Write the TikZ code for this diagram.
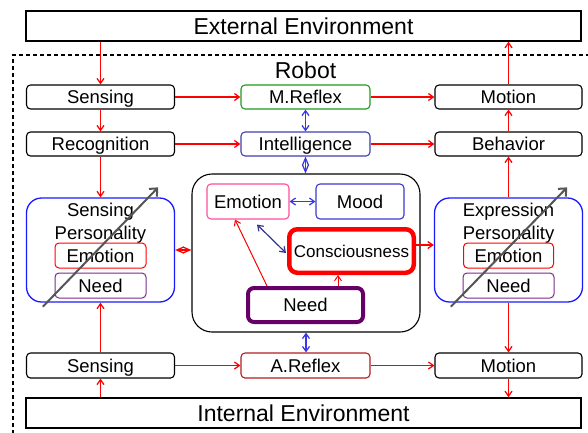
\documentclass[tikz,border=0pt]{standalone}
\usepackage{fontspec}
\setmainfont{Liberation Sans}
\usetikzlibrary{arrows.meta,calc}
\definecolor{rr}{HTML}{FF0000}
\definecolor{bl}{HTML}{3838E8}
\definecolor{navy}{HTML}{343494}
\definecolor{grn}{HTML}{1E9A1E}
\definecolor{dred}{HTML}{B02020}
\definecolor{intb}{HTML}{4040B0}
\definecolor{moodb}{HTML}{3A3ACC}
\definecolor{pink}{HTML}{FF4FA0}
\definecolor{purp}{HTML}{7A2A8A}
\definecolor{dpurp}{HTML}{660066}
\definecolor{pblue}{HTML}{1A1AFF}
\definecolor{gr}{HTML}{555555}
\newcommand{\fsn}{\fontsize{18.5}{20}\selectfont}
\newcommand{\fsb}{\fontsize{23}{25}\selectfont}
\tikzset{
  box/.style={draw, rounded corners=4pt, minimum height=24pt, inner sep=0pt, font=\fsn, line width=1.1pt, fill=white, text height=13.3pt, text depth=0pt},
  envbox/.style={draw, minimum height=30pt, minimum width=555pt, inner sep=0pt, font=\fsb, line width=1.5pt, text height=16.5pt, text depth=0pt},
  pbox/.style={draw=pblue, rounded corners=15pt, minimum width=148pt, minimum height=104pt, inner sep=0pt, line width=1.3pt},
  tipa/.tip={Straight Barb[length=5pt,width=7pt]},
  tipb/.tip={Straight Barb[length=7pt,width=6pt]},
  rarr/.style={draw=rr, line width=1.25pt, -tipa},
  rdarr/.style={draw=rr, line width=1.25pt, tipb-tipb},
  bdarr/.style={draw=bl, line width=1.25pt, tipa-tipa},
  bdarrs/.style={draw=bl, line width=1.25pt, tipb-tipb},
  ndarr/.style={draw=navy, line width=1.2pt, tipa-tipa},
  garr/.style={draw=gr, line width=2pt, -{Straight Barb[length=6pt,width=11pt]}},
  lbl/.style={font=\fsn, anchor=base, inner sep=0pt}
}
\begin{document}
\begin{tikzpicture}[x=1pt,y=-1pt]
\useasboundingbox (0,0) rectangle (588,432);
% robot frame
\draw[line width=1.3pt, dash pattern=on 4pt off 3pt] (13,434) -- (13,55) -- (590,55);
\node[lbl, font=\fsb] (robot) at (305.5,78) {Robot};
% environments
\node[envbox] (ext) at (303.5,26) {External Environment};
\node[envbox] (ienv) at (303.5,413) {Internal Environment};
% top rows
\node[box, minimum width=148pt] (s1) at (100.5,97) {Sensing};
\node[box, minimum width=129pt, draw=grn] (mref) at (305.5,97) {M.Reflex};
\node[box, minimum width=147pt] (mot1) at (508.5,97) {Motion};
\node[box, minimum width=148pt] (rec) at (100.5,144) {Recognition};
\node[box, minimum width=129pt, draw=intb] (int) at (305.5,144) {Intelligence};
\node[box, minimum width=147pt] (beh) at (508.5,144) {Behavior};
% bottom row
\node[box, minimum width=148pt, minimum height=25pt] (s2) at (100.5,365.5) {Sensing};
\node[box, minimum width=129pt, minimum height=25pt, draw=dred] (ar) at (305.5,365.5) {A.Reflex};
\node[box, minimum width=147pt, minimum height=25pt] (mot2) at (508.5,365.5) {Motion};
% personality boxes
\node[pbox] (sp) at (100.5,250) {};
\node[lbl] (spt1) at (100.5,216) {Sensing};
\node[lbl] (spt2) at (100.5,239) {Personality};
\node[box, draw=rr, minimum width=91pt, minimum height=25pt, line width=1pt] (spe) at (100.5,255.5) {Emotion};
\node[box, draw=purp, minimum width=91pt, minimum height=25pt, line width=1pt] (spn) at (100.5,285.5) {Need};
\node[pbox] (ep) at (508.5,250) {};
\node[lbl] (ept1) at (508.5,216) {Expression};
\node[lbl] (ept2) at (508.5,239) {Personality};
\node[box, draw=rr, minimum width=90pt, minimum height=25pt, line width=1pt] (epe) at (508.5,255.5) {Emotion};
\node[box, draw=purp, minimum width=91pt, minimum height=25pt, line width=1pt] (epn) at (508.5,285.5) {Need};
% central box
\node[draw, rounded corners=20pt, minimum width=228pt, minimum height=158pt, inner sep=0pt, line width=1.1pt] (cb) at (306,253) {};
\node[box, draw=pink, minimum width=82pt, minimum height=35pt] (cemo) at (248,201.5) {Emotion};
\node[box, draw=moodb, minimum width=88pt, minimum height=35pt] (cmood) at (360,201.5) {Mood};
\node[box, draw=rr, rounded corners=8pt, minimum width=124.5pt, minimum height=43.5pt, line width=4.5pt, font=\fontsize{17}{19}\selectfont, text height=12.2pt] (ccons) at (351.5,251) {Consciousness};
\node[box, draw=dpurp, rounded corners=6pt, minimum width=115pt, minimum height=34pt, line width=4pt] (cneed) at (305.5,305) {Need};
% connectors: top
\draw[rarr] (s1.north |- ext.south) -- (s1.north);
\draw[rarr] (s1) -- (mref);
\draw[rarr] (s1) -- (rec);
\draw[rarr] (rec) -- (int);
\draw[rarr] (rec) -- (sp.north);
\draw[rarr] (mref) -- (mot1);
\draw[rarr] (int) -- (beh);
\draw[rarr] (beh) -- (mot1);
\draw[rarr] (mot1.north) -- (mot1.north |- ext.south);
\draw[rarr] (beh.south |- ep.north) -- (beh.south);
\draw[bdarr] (mref) -- (int);
\draw[bdarrs] (int.south) -- (int.south |- cb.north);
% middle
\draw[rdarr] (sp.east) -- (sp.east -| cb.west);
\draw[rarr] ([yshift=6pt]ccons.east) -- ([yshift=6pt]ccons.east -| ep.west);
\draw[bdarr] (cemo) -- (cmood);
\draw[ndarr] ($(cemo.south)+(9,5)$) -- ($(ccons.west)+(-1,2)$);
\draw[rarr, line width=1pt] ($(cneed.north west)+(21,0)$) -- ($(cemo.south)+(-13,0)$);
\draw[rarr, line width=1pt] ([xshift=32.5pt]cneed.north) -- ([xshift=32.5pt]cneed.north |- ccons.south);
% bottom
\draw[bdarr] (cb.south) -- (cb.south |- ar.north);
\draw[rarr] (s2) -- (ar);
\draw[rarr] (ar) -- (mot2);
\draw[rarr] (s2.north) -- (s2.north |- sp.south);
\draw[rarr] (s2.south |- ienv.north) -- (s2.south);
\draw[rarr] (mot2.north |- ep.south) -- (mot2.north);
\draw[rarr] (mot2.south) -- (mot2.south |- ienv.north);
% gray arrows
\draw[garr] ($(sp.south west)+(17,4)$) -- ($(sp.north east)+(-17,-10)$);
\draw[garr] ($(ep.south west)+(17,4)$) -- ($(ep.north east)+(-16,-10)$);
\end{tikzpicture}
\end{document}
